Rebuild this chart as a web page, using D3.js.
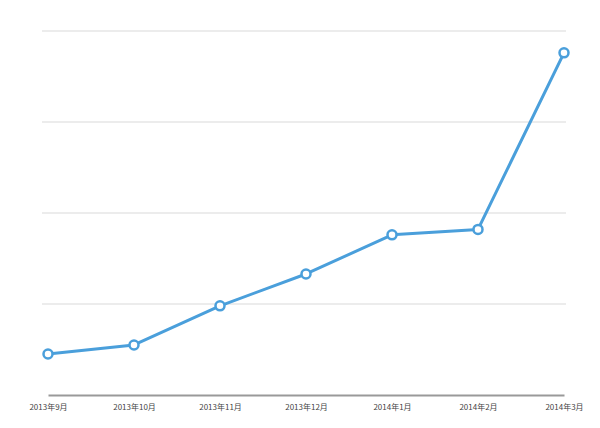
<!DOCTYPE html>
<html><head><meta charset="utf-8">
<script src="https://cdn.jsdelivr.net/npm/d3@7"></script>
<style>body{margin:0;background:#fff}</style>
</head><body>
<svg id="c" width="600" height="428"></svg>
<script>
const categories = ["2013年9月","2013年10月","2013年11月","2013年12月","2014年1月","2014年2月","2014年3月"];
const values = [45, 55, 98, 133, 176, 182, 376];
const yTicks = [100, 200, 300, 400];

const svg = d3.select("#c");
const x = d3.scalePoint().domain(categories).range([48, 564]);
const y = d3.scaleLinear().domain([0, 400]).range([395, 31]);

svg.append("g").selectAll("line").data(yTicks).join("line")
  .attr("x1", 42).attr("x2", 566)
  .attr("y1", d => y(d)).attr("y2", d => y(d))
  .attr("stroke", "#e6e6e6").attr("stroke-width", 1.5);

const ax = svg.append("g").attr("transform", "translate(0,395)")
  .call(d3.axisBottom(x).tickSize(0).tickPadding(9));
ax.select(".domain").attr("stroke", "#999").attr("stroke-width", 2);
ax.selectAll("text").attr("font-family", "Noto Sans CJK SC, sans-serif")
  .attr("font-size", 8).attr("fill", "#444");

const line = d3.line().x((d, i) => x(categories[i])).y(d => y(d));
svg.append("path").datum(values).attr("d", line)
  .attr("fill", "none").attr("stroke", "#4a9fdb").attr("stroke-width", 3)
  .attr("stroke-linejoin", "round");

svg.append("g").selectAll("circle").data(values).join("circle")
  .attr("cx", (d, i) => x(categories[i])).attr("cy", d => y(d))
  .attr("r", 4.5).attr("fill", "#fff").attr("stroke", "#4a9fdb").attr("stroke-width", 2.5);
</script>
</body></html>
